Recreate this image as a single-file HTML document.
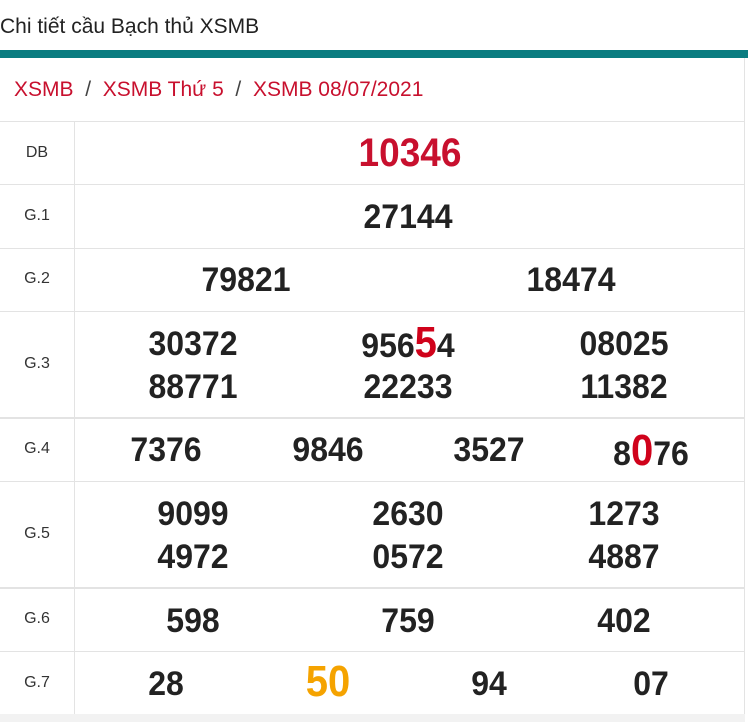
<!DOCTYPE html>
<html><head><meta charset="utf-8"><style>
body{margin:0;width:748px;height:722px;background:#fff;position:relative;overflow:hidden;font-family:"Liberation Sans",Arial,sans-serif;}
.a{position:absolute;white-space:nowrap}
.n{position:absolute;width:200px;margin-left:-100px;text-align:center;height:40px;line-height:40px;font-weight:bold;font-size:32px;color:#222;transform:scaleY(1.08)}
.l{position:absolute;left:0;width:74px;text-align:center;font-size:16px;color:#333;height:20px;line-height:20px}
.h{position:absolute;left:0;width:745px;background:#e3e3e3;height:1px}
.r{color:#d0021b;font-size:40px}
</style></head><body>
<div class="a" style="left:0;top:15px;font-size:21px;color:#222">Chi tiết cầu Bạch thủ XSMB</div>
<div class="a" style="left:0;top:50px;width:748px;height:8px;background:#0a7c80"></div>
<div class="a" style="left:744px;top:58px;width:1px;height:660px;background:#e3e3e3"></div>
<div class="a" style="left:14px;top:78px;font-size:21px;color:#c8102e">XSMB <span style="color:#444">&nbsp;/&nbsp;</span> XSMB Thứ 5 <span style="color:#444">&nbsp;/&nbsp;</span> XSMB 08/07/2021</div>
<div class="h" style="top:121px"></div>
<div class="h" style="top:184px"></div>
<div class="h" style="top:248px"></div>
<div class="h" style="top:311px"></div>
<div class="h" style="top:417px;height:2px"></div>
<div class="h" style="top:481px"></div>
<div class="h" style="top:587px;height:2px"></div>
<div class="h" style="top:651px"></div>
<div class="h" style="top:714px;height:8px;background:#f2f2f2"></div>
<div class="a" style="left:74px;top:121px;width:1px;height:593px;background:#e3e3e3"></div>
<div class="l" style="top:143px">DB</div>
<div class="l" style="top:206px">G.1</div>
<div class="l" style="top:269px">G.2</div>
<div class="l" style="top:354px">G.3</div>
<div class="l" style="top:439px">G.4</div>
<div class="l" style="top:524px">G.5</div>
<div class="l" style="top:609px">G.6</div>
<div class="l" style="top:673px">G.7</div>
<div class="n" style="left:410px;top:133px;font-size:37px;color:#c8102e">10346</div>
<div class="n" style="left:408px;top:196px">27144</div>
<div class="n" style="left:246px;top:259px">79821</div>
<div class="n" style="left:571px;top:259px">18474</div>
<div class="n" style="left:193px;top:323px">30372</div>
<div class="n" style="left:408px;top:323px">956<span class="r">5</span>4</div>
<div class="n" style="left:624px;top:323px">08025</div>
<div class="n" style="left:193px;top:366px">88771</div>
<div class="n" style="left:408px;top:366px">22233</div>
<div class="n" style="left:624px;top:366px">11382</div>
<div class="n" style="left:166px;top:429px">7376</div>
<div class="n" style="left:328px;top:429px">9846</div>
<div class="n" style="left:489px;top:429px">3527</div>
<div class="n" style="left:651px;top:431px">8<span class="r">0</span>76</div>
<div class="n" style="left:193px;top:493px">9099</div>
<div class="n" style="left:408px;top:493px">2630</div>
<div class="n" style="left:624px;top:493px">1273</div>
<div class="n" style="left:193px;top:536px">4972</div>
<div class="n" style="left:408px;top:536px">0572</div>
<div class="n" style="left:624px;top:536px">4887</div>
<div class="n" style="left:193px;top:600px">598</div>
<div class="n" style="left:408px;top:600px">759</div>
<div class="n" style="left:624px;top:600px">402</div>
<div class="n" style="left:166px;top:663px">28</div>
<div class="n" style="left:328px;top:662px;font-size:40px;color:#f5a300">50</div>
<div class="n" style="left:489px;top:663px">94</div>
<div class="n" style="left:651px;top:663px">07</div>
</body></html>
